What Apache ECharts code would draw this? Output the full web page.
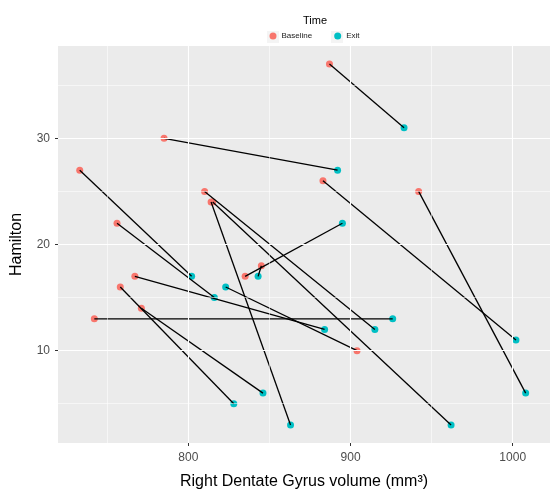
<!DOCTYPE html>
<html>
<head>
<meta charset="utf-8">
<script src="https://cdn.jsdelivr.net/npm/echarts@6/dist/echarts.min.js"></script>
<style>
html,body{margin:0;padding:0;background:#fff;}
#chart{width:550px;height:495px;}
</style>
</head>
<body>
<div id="chart"></div>
<script>
// Data
const baseX = [887, 785, 733, 810, 815, 814, 756, 883, 942, 767, 758, 835, 845, 771, 742, 904];
const baseY = [37, 30, 27, 25, 24, 24, 22, 26, 25, 17, 16, 17, 18, 14, 13, 10];
const exitX = [933, 892, 802, 915, 962, 863, 816, 1002, 1008, 884, 828, 895, 843, 846, 926, 823];
const exitY = [31, 27, 17, 12, 3, 3, 15, 11, 6, 12, 5, 22, 17, 6, 13, 16];
const xTicks = [800, 900, 1000];
const yTicks = [10, 20, 30];
const xMinor = [750, 850, 950];
const yMinor = [5, 15, 25, 35];

const FONT = 'Liberation Sans, Arial, Helvetica, sans-serif';
const chart = echarts.init(document.getElementById('chart'), null, {renderer: 'canvas'});

const gridLines = [];
xTicks.forEach(v => gridLines.push({xAxis: v, lineStyle: {color: '#fff', width: 1.1, type: 'solid'}}));
xMinor.forEach(v => gridLines.push({xAxis: v, lineStyle: {color: '#fff', width: 0.55, type: 'solid'}}));
yTicks.forEach(v => gridLines.push({yAxis: v, lineStyle: {color: '#fff', width: 1.1, type: 'solid'}}));
yMinor.forEach(v => gridLines.push({yAxis: v, lineStyle: {color: '#fff', width: 0.55, type: 'solid'}}));

const series = [{
  type: 'scatter', name: 'grid', data: [], silent: true, z: 1,
  markLine: {silent: true, symbol: ['none', 'none'], label: {show: false}, animation: false, data: gridLines}
}, {
  type: 'scatter', name: 'Baseline', data: baseX.map((x, i) => [x, baseY[i]]),
  symbolSize: 7, itemStyle: {color: '#F8766D', opacity: 1}, z: 3
}, {
  type: 'scatter', name: 'Exit', data: exitX.map((x, i) => [x, exitY[i]]),
  symbolSize: 7, itemStyle: {color: '#00BFC4', opacity: 1}, z: 3
}];
baseX.forEach((x, i) => {
  series.push({
    type: 'line', name: 'pair' + i, data: [[x, baseY[i]], [exitX[i], exitY[i]]],
    symbol: 'none', silent: true, z: 4,
    lineStyle: {color: '#000', width: 1.3}
  });
});

chart.setOption({
  animation: false,
  backgroundColor: '#fff',
  textStyle: {fontFamily: FONT},
  graphic: [
    {type: 'text', x: 315, y: 21, style: {text: 'Time', fontSize: 11, fontFamily: FONT, fill: '#000', textAlign: 'center', textVerticalAlign: 'middle'}},
    {type: 'rect', shape: {x: 267, y: 31, width: 12, height: 12}, style: {fill: '#f4f4f4'}, z: -1},
    {type: 'rect', shape: {x: 331, y: 31, width: 12, height: 12}, style: {fill: '#f4f4f4'}, z: -1}
  ],
  legend: {
    data: ['Baseline', 'Exit'], left: 269.5, top: 32, padding: 0, itemWidth: 7, itemHeight: 7, itemGap: 22,
    icon: 'circle', textStyle: {fontSize: 8, color: '#1a1a1a', fontFamily: FONT}
  },
  grid: {left: 58, right: -4, top: 46, bottom: 47, backgroundColor: '#EBEBEB', show: true, borderWidth: 0},
  xAxis: {
    type: 'value', min: 719.6, max: 1023,
    axisLine: {show: false},
    axisTick: {show: true, length: 3, lineStyle: {color: '#333', width: 1}, customValues: xTicks},
    axisLabel: {customValues: xTicks, color: '#4D4D4D', fontSize: 12, margin: 9, fontFamily: FONT, formatter: v => String(v)},
    splitLine: {show: false},
    name: 'Right Dentate Gyrus volume (mm³)', nameLocation: 'middle', nameGap: 31,
    nameTextStyle: {fontSize: 16, color: '#000', fontFamily: FONT}
  },
  yAxis: {
    type: 'value', min: 1.3, max: 38.7,
    axisLine: {show: false},
    axisTick: {show: true, length: 3, lineStyle: {color: '#333', width: 1}, customValues: yTicks},
    axisLabel: {customValues: yTicks, color: '#4D4D4D', fontSize: 12, margin: 8, fontFamily: FONT, formatter: v => String(v)},
    splitLine: {show: false},
    name: 'Hamilton', nameLocation: 'middle', nameGap: 33, nameRotate: 90,
    nameTextStyle: {fontSize: 16, color: '#000', fontFamily: FONT}
  },
  series: series
});
</script>
</body>
</html>
